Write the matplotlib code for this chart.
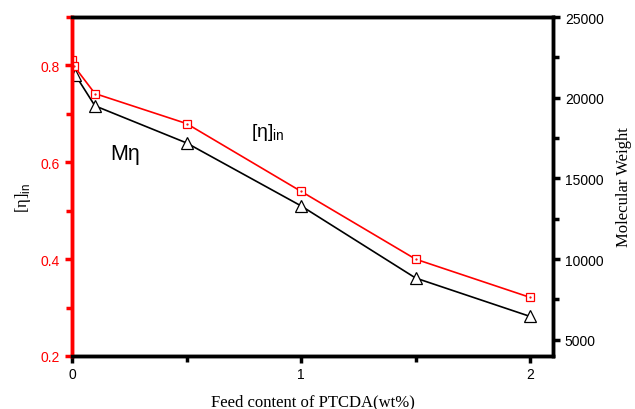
import matplotlib
matplotlib.use("Agg")
import matplotlib.pyplot as plt
from matplotlib.ticker import MultipleLocator

# data
feed_eta = [0.0, 0.01, 0.1, 0.5, 1.0, 1.5, 2.0]
eta_in = [0.812, 0.798, 0.742, 0.680, 0.540, 0.400, 0.321]

feed_mw = [0.015, 0.1, 0.5, 1.0, 1.5, 2.0]
mol_weight = [21400, 19500, 17200, 13300, 8830, 6450]

plt.rcParams['font.family'] = ['Liberation Sans', 'DejaVu Sans']
plt.rcParams['mathtext.fontset'] = 'custom'
plt.rcParams['mathtext.rm'] = 'Liberation Sans'

fig = plt.figure(figsize=(6.35, 4.1), dpi=100)
ax = fig.add_axes([0.1134, 0.1293, 0.7575, 0.8267])
ax2 = ax.twinx()

# molecular weight (black triangles)
ax2.plot(feed_mw, mol_weight, color="black", lw=1.2, marker="^", ms=8,
         markerfacecolor="white", markeredgecolor="black", mew=0.9, zorder=2)
ax2.set_ylim(4000, 25000)
ax2.yaxis.set_minor_locator(MultipleLocator(2500))
ax2.set_yticks([5000, 10000, 15000, 20000, 25000])
ax2.set_ylabel("Molecular Weight", family="Liberation Serif", fontsize=12, labelpad=9)

# intrinsic viscosity (red squares) drawn on top
ax.set_zorder(ax2.get_zorder() + 1)
ax.patch.set_visible(False)
ax.plot(feed_eta, eta_in, color="red", lw=1.2, marker="s", ms=6,
        markerfacecolor="white", markeredgecolor="red", mew=0.9)
ax.plot(feed_eta, eta_in, ls="none", marker=".", ms=1.2, color="red")
ax.set_xlim(0, 2.1)
ax.set_ylim(0.2, 0.9)
ax.set_xticks([0, 1, 2])
ax.xaxis.set_minor_locator(MultipleLocator(0.5))
ax.set_yticks([0.2, 0.4, 0.6, 0.8])
ax.yaxis.set_minor_locator(MultipleLocator(0.1))
ax.set_xlabel("Feed content of PTCDA(wt%)", family="Liberation Serif", fontsize=12, labelpad=9)
ax.set_ylabel(r"[η]$_{\mathrm{in}}$", family="Liberation Serif", fontsize=12)
ax.yaxis.set_label_coords(-0.082, 0.47)

for a in (ax, ax2):
    for s in a.spines.values():
        s.set_linewidth(2.5)
        s.set_color("black")
ax.spines['left'].set_color("red")
ax2.spines['left'].set_color("red")

ax.tick_params(axis='x', which='both', direction='out', width=2.5, colors='black',
               labelsize=10, top=False)
ax.tick_params(axis='x', which='major', length=5, pad=3)
ax.tick_params(axis='x', which='minor', length=4)
ax.tick_params(axis='y', which='both', direction='out', width=2.5, color='red',
               labelcolor='red', labelsize=10)
ax.tick_params(axis='y', which='major', length=5)
ax.tick_params(axis='y', which='minor', length=4)
ax2.tick_params(axis='y', which='both', direction='out', width=2.5, colors='black',
                labelsize=10)
ax2.tick_params(axis='y', which='major', length=5)
ax2.tick_params(axis='y', which='minor', length=4)

ax.text(0.165, 0.618, "Mη", fontsize=15.5, ha="left", va="center")
ax.text(0.78, 0.664, r"[η]$_{\mathrm{in}}$", fontsize=14, ha="left", va="center")

fig.savefig("out.png", dpi=100)
